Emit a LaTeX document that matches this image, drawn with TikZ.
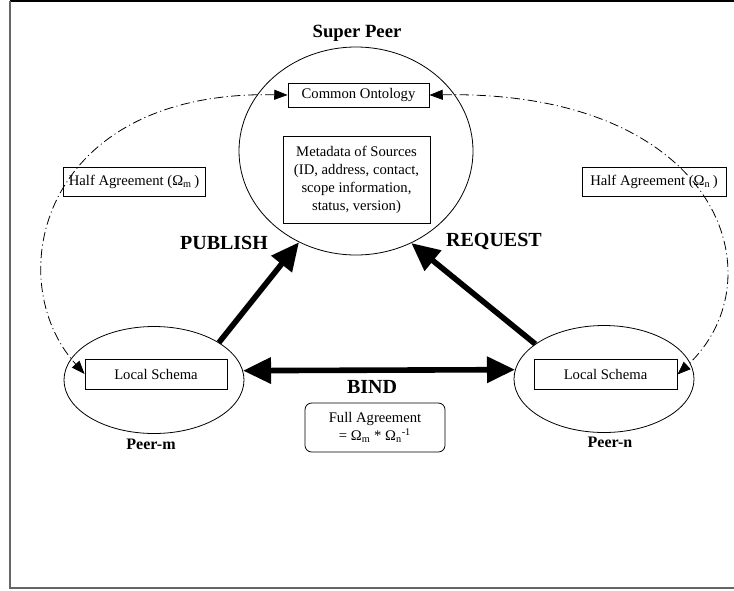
\documentclass[tikz,border=0pt]{standalone}
\usepackage{fontspec}
\setmainfont{Liberation Serif}
\usetikzlibrary{arrows.meta,shapes.geometric}

\begin{document}
\begin{tikzpicture}[x=0.75pt,y=-0.75pt,
    peer/.style={draw,ellipse,line width=0.6pt,inner sep=0pt},
    box/.style={draw,line width=0.6pt,inner sep=0pt,align=center,font=\fontsize{11}{13.5}\selectfont},
    title/.style={inner sep=0pt,font=\fontsize{14}{16}\selectfont\bfseries},
    flow/.style={line width=4.2pt,-{Triangle[length=21pt,width=19pt]}},
    half/.style={line width=0.6pt,dash pattern=on 7pt off 2.5pt on 0.8pt off 2.5pt,
        {Triangle[length=10pt,width=7.5pt]}-{Triangle[length=10pt,width=7.5pt]}}]
    \useasboundingbox (0,0) rectangle (734,590);

    % Frame
    \draw[line width=1.2pt] (10,1) -- (734,1);
    \draw[line width=1.2pt,gray!80!black] (10,1) -- (10,588) -- (734,588);

    % Super peer with its boxes
    \node[peer,minimum width=175.5pt,minimum height=156pt] (sp) at (356,151) {};
    \node[title] (splab) at (357,33) {Super Peer};
    \node[box,minimum width=105.75pt,minimum height=18pt] (co) at (358.5,95) {Common Ontology};
    \node[box,minimum width=110.25pt,minimum height=65.25pt] (md) at (356.5,179.5)
        {Metadata of Sources\\(ID, address, contact,\\scope information,\\status, version)};

    % The two peers
    \node[peer,minimum width=135pt,minimum height=80.25pt] (pm) at (154,380) {};
    \node[peer,minimum width=135pt,minimum height=80.25pt] (pn) at (604,379) {};
    \node[box,minimum width=106.5pt,minimum height=22.5pt] (lsm) at (156,374) {Local Schema};
    \node[box,minimum width=107.25pt,minimum height=22.5pt] (lsn) at (605.5,374.5) {Local Schema};
    \node[title,font=\fontsize{12}{14}\selectfont\bfseries] (pmlab) at (151,444) {Peer-m};
    \node[title,font=\fontsize{12}{14}\selectfont\bfseries] (pnlab) at (610,442) {Peer-n};

    % Agreements
    \node[box,minimum width=106.5pt,minimum height=21.75pt] (ham) at (134,181.5)
        {Half Agreement (Ω\textsubscript{m}\,)};
    \node[box,minimum width=108pt,minimum height=21.75pt] (han) at (654,181.5)
        {Half Agreement (Ω\textsubscript{n}\,)};
    \node[box,rounded corners=5pt,minimum width=105pt,minimum height=36.75pt] (fa) at (375,427.5)
        {Full Agreement\\= Ω\textsubscript{m} * Ω\textsubscript{n}\textsuperscript{-1}};

    % Thick arrows and their labels
    \draw[flow] (pm.30) -- (sp.238);
    \draw[flow] (pn.153) -- (sp.301);
    \draw[flow,{Triangle[length=21pt,width=19pt]}-{Triangle[length=21pt,width=19pt]}] (pm.6) -- (pn.174);
    \node[title,font=\fontsize{15}{17}\selectfont\bfseries] (publab) at (224,243) {PUBLISH};
    \node[title,font=\fontsize{15}{17}\selectfont\bfseries] (reqlab) at (494,241) {REQUEST};
    \node[title,font=\fontsize{15}{17}\selectfont\bfseries] (bindlab) at (372,387) {BIND};

    % Dash-dot links between the ontology and the local schemas
    \draw[half] (co.west) .. controls +(-248,-5) and +(-85,-94) .. (lsm.west);
    \draw[half] (co.east) .. controls +(291,-5) and +(103,-95) .. (lsn.east);

\end{tikzpicture}
\end{document}
